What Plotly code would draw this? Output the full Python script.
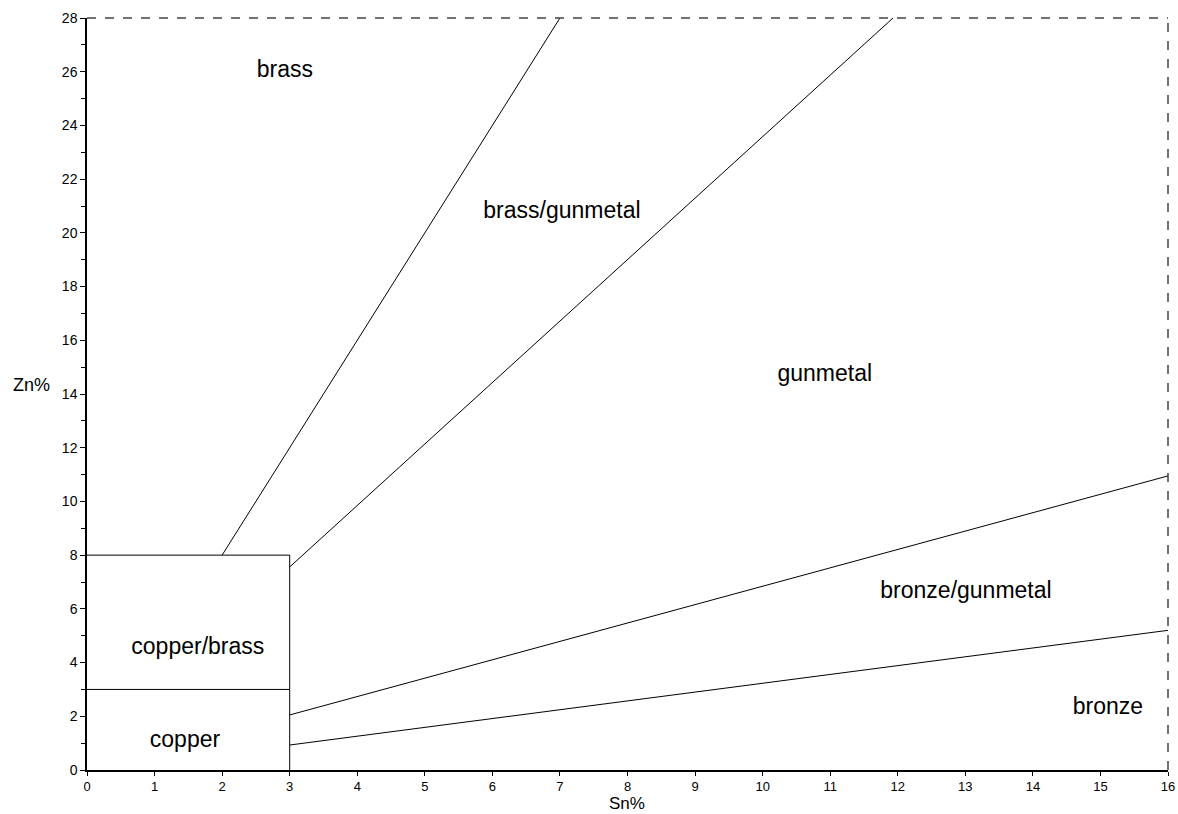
import plotly.graph_objects as go

# Region boundaries on the Sn% / Zn% plane (pairs of endpoints)
brass_edge_sn = [2, 7.0]
brass_edge_zn = [8, 28]
gunmetal_upper_sn = [3, 11.93]
gunmetal_upper_zn = [7.56, 28]
gunmetal_lower_sn = [3, 16]
gunmetal_lower_zn = [2.05, 10.95]
bronze_edge_sn = [3, 16]
bronze_edge_zn = [0.93, 5.2]

# Low-alloy box: copper and copper/brass
box_sn = [0, 3, 3]
box_zn = [8, 8, 0]
copper_split_sn = [0, 3]
copper_split_zn = [3, 3]

# Region names and where they sit
region_names = ["brass", "brass/gunmetal", "gunmetal", "bronze/gunmetal",
                "bronze", "copper/brass", "copper"]
region_sn = [2.93, 7.03, 10.92, 13.01, 15.11, 1.64, 1.45]
region_zn = [26.0, 20.77, 14.7, 6.63, 2.31, 4.54, 1.08]

FAMILY = "Liberation Sans, Arial, sans-serif"

fig = go.Figure()
line_style = dict(color="black", width=1)
for xs, ys in [(brass_edge_sn, brass_edge_zn),
               (gunmetal_upper_sn, gunmetal_upper_zn),
               (gunmetal_lower_sn, gunmetal_lower_zn),
               (bronze_edge_sn, bronze_edge_zn),
               (box_sn, box_zn),
               (copper_split_sn, copper_split_zn)]:
    fig.add_trace(go.Scatter(x=xs, y=ys, mode="lines", line=line_style,
                             hoverinfo="skip", showlegend=False))

fig.add_trace(go.Scatter(x=region_sn, y=region_zn, mode="text", text=region_names,
                         textfont=dict(size=23, color="black", family=FAMILY),
                         hoverinfo="skip", showlegend=False))

# Top and right frame edges, dashed
fig.add_shape(type="line", xref="paper", yref="paper", x0=0, x1=1, y0=1, y1=1,
              line=dict(color="#444", width=1.5, dash="dash"))
fig.add_shape(type="line", xref="paper", yref="paper", x0=1, x1=1, y0=0, y1=1,
              line=dict(color="#444", width=1.5, dash="dash"))

tickfont = dict(family=FAMILY, size=14, color="black")
fig.update_layout(
    width=1178, height=814,
    margin=dict(l=87, r=10, t=18, b=44),
    paper_bgcolor="white", plot_bgcolor="white",
    font=dict(family=FAMILY, size=14, color="black"),
    xaxis=dict(range=[0, 16], dtick=1, tick0=0, showgrid=False, zeroline=False,
               showline=True, linecolor="black", linewidth=1.5, automargin=False,
               ticks="outside", ticklen=4, tickcolor="black",
               tickfont=dict(family=FAMILY, size=13, color="black")),
    yaxis=dict(range=[0, 28], dtick=2, tick0=0, showgrid=False, zeroline=False,
               showline=True, linecolor="black", linewidth=1.5, automargin=False,
               ticks="outside", ticklen=5, tickcolor="black", tickfont=tickfont,
               minor=dict(dtick=1, ticks="outside", ticklen=4, tickcolor="black")),
)
fig.add_annotation(text="Zn%", xref="paper", yref="y", x=-0.0509, y=14.33,
                   xanchor="center", yanchor="middle", showarrow=False,
                   font=dict(size=18, color="black", family=FAMILY))
fig.add_annotation(text="Sn%", xref="x", yref="paper", x=7.99, y=-0.0585,
                   xanchor="center", yanchor="bottom", showarrow=False, borderpad=0,
                   font=dict(size=17, color="black", family=FAMILY))

fig.write_html("out.html")
